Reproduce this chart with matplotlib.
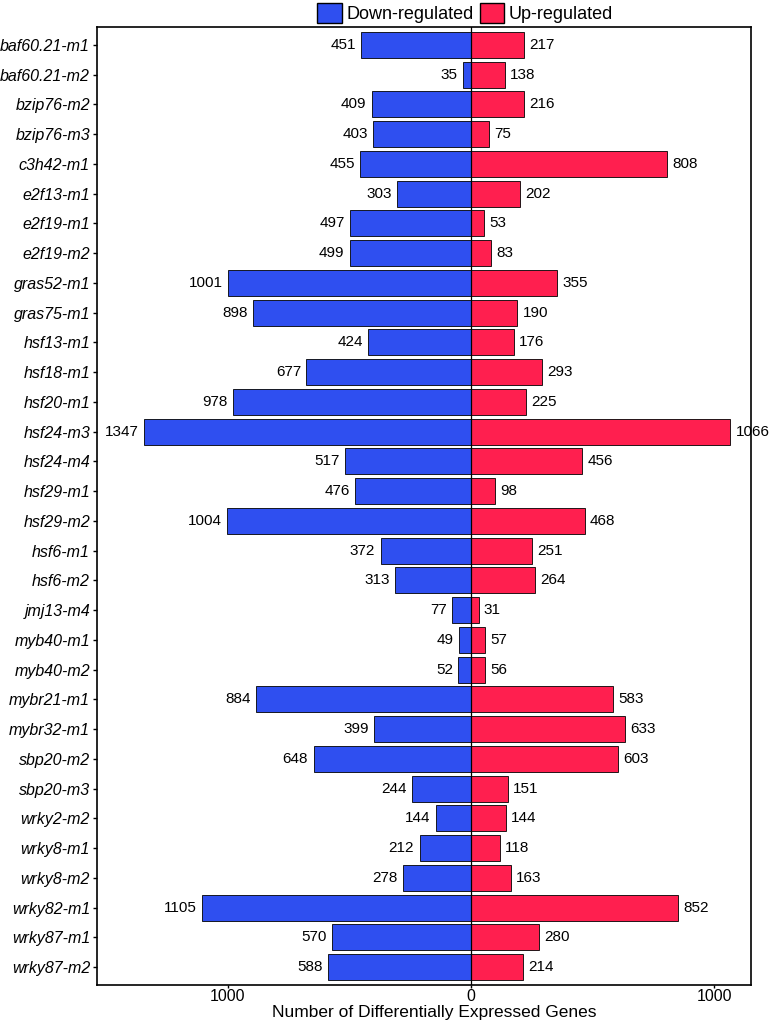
"""Diverging bar chart of up/down regulated gene counts per mutant."""
import matplotlib.pyplot as plt
import numpy as np
from matplotlib.patches import Patch

mutants = ["baf60.21-m1", "baf60.21-m2", "bzip76-m2", "bzip76-m3", "c3h42-m1",
           "e2f13-m1", "e2f19-m1", "e2f19-m2", "gras52-m1", "gras75-m1",
           "hsf13-m1", "hsf18-m1", "hsf20-m1", "hsf24-m3", "hsf24-m4",
           "hsf29-m1", "hsf29-m2", "hsf6-m1", "hsf6-m2", "jmj13-m4",
           "myb40-m1", "myb40-m2", "mybr21-m1", "mybr32-m1", "sbp20-m2",
           "sbp20-m3", "wrky2-m2", "wrky8-m1", "wrky8-m2", "wrky82-m1",
           "wrky87-m1", "wrky87-m2"]
down = [451, 35, 409, 403, 455, 303, 497, 499, 1001, 898, 424, 677, 978, 1347,
        517, 476, 1004, 372, 313, 77, 49, 52, 884, 399, 648, 244, 144, 212,
        278, 1105, 570, 588]
up = [217, 138, 216, 75, 808, 202, 53, 83, 355, 190, 176, 293, 225, 1066,
      456, 98, 468, 251, 264, 31, 57, 56, 583, 633, 603, 151, 144, 118, 163,
      852, 280, 214]

BLUE = "#2f4ff0"
RED = "#ff1f4f"

plt.rcParams["font.family"] = ["Liberation Sans", "DejaVu Sans"]

fig = plt.figure(figsize=(7.78, 10.22), dpi=100)
ax = fig.add_axes([97 / 778, 1 - 985 / 1022, (751 - 97) / 778, (985 - 27) / 1022])

y = np.arange(len(mutants))
down_arr = -np.array(down)
up_arr = np.array(up)
ax.barh(y, down_arr, height=0.88, color=BLUE, edgecolor="black", linewidth=0.6)
ax.barh(y, up_arr, height=0.88, color=RED, edgecolor="black", linewidth=0.6)
ax.axvline(0, color="black", linewidth=0.9, zorder=3)

for yi, d, u in zip(y, down, up):
    ax.text(-d - 22, yi, str(d), ha="right", va="center", fontsize=11)
    ax.text(u + 22, yi, str(u), ha="left", va="center", fontsize=11)

ax.set_xlim(-1539, 1152)
ax.set_ylim(len(mutants) - 0.4, -0.6)
ax.set_yticks(y)
ax.set_yticklabels(mutants, style="italic", fontsize=11.5)
ax.set_xticks([-1000, 0, 1000])
ax.set_xticklabels(["1000", "0", "1000"], fontsize=11.5)
ax.set_xlabel("Number of Differentially Expressed Genes", fontsize=12.5, va="center")
ax.xaxis.set_label_coords(0.515, -0.0282)
ax.tick_params(axis="x", length=2.5, width=1, color="black", pad=0.5)
ax.tick_params(axis="y", length=3, width=1, color="black", pad=2)
for s in ax.spines.values():
    s.set_linewidth(1.2)

handles = [Patch(facecolor=BLUE, edgecolor="black", label="Down-regulated"),
           Patch(facecolor=RED, edgecolor="black", label="Up-regulated")]
fig.legend(handles=handles, loc="center", bbox_to_anchor=(465 / 778, 1 - 13 / 1022),
           ncol=2, frameon=False, fontsize=13, handlelength=1.35, handleheight=1.35,
           handletextpad=0.25, columnspacing=0.35, borderpad=0)

fig.savefig("out.png", dpi=100)
